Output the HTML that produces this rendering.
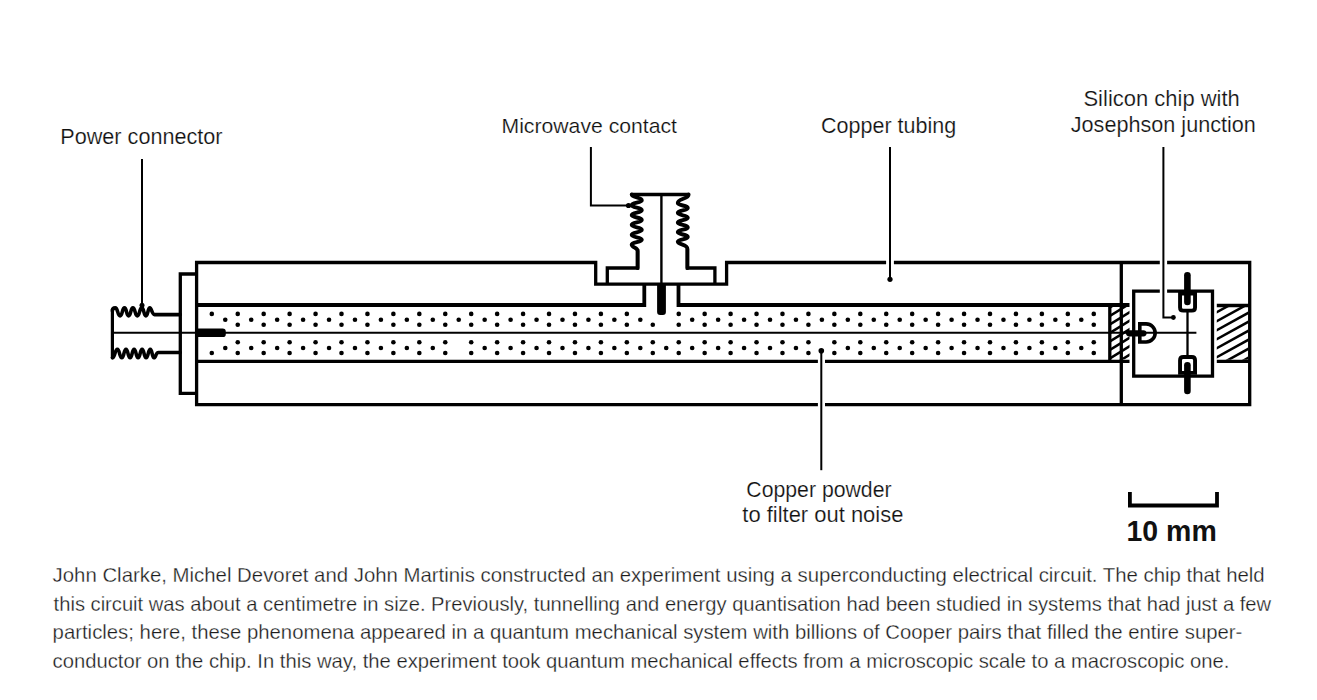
<!DOCTYPE html>
<html><head><meta charset="utf-8"><style>
html,body{margin:0;padding:0;background:#fff;width:1317px;height:700px;overflow:hidden;}
svg{position:absolute;left:0;top:0;}
.t{position:absolute;font-family:"Liberation Sans",sans-serif;color:#1e1e1e;white-space:nowrap;line-height:1;transform-origin:0 0;}
.lab{font-size:21.4px;color:#111;-webkit-text-stroke:0.2px #fff;}
.bold{-webkit-text-stroke:0;}
.p{font-size:20.2px;color:#1c1c1c;-webkit-text-stroke:0.28px #fff;}
</style></head><body>
<svg width="1317" height="700" viewBox="0 0 1317 700" stroke="#000" fill="none">
<path d="M817.9,404.7 L196.6,404.7 L196.6,262.5 L595.7,262.5 L595.7,284.1 L726.6,284.1 L726.6,262.5 L886.1,262.5" stroke-width="3.3" stroke-linecap="butt" stroke-linejoin="miter" fill="none"/>
<line x1="893.90" y1="262.50" x2="1159.80" y2="262.50" stroke-width="3.3" stroke-linecap="butt"/>
<path d="M1167.1,262.5 L1249.7,262.5 L1249.7,404.7 L825,404.7" stroke-width="3.3" stroke-linecap="butt" stroke-linejoin="miter" fill="none"/>
<line x1="1121.30" y1="262.50" x2="1121.30" y2="404.70" stroke-width="3.3" stroke-linecap="butt"/>
<path d="M196.6,274 L180.3,274 L180.3,393.3 L196.6,393.3" stroke-width="3.3" stroke-linecap="butt" stroke-linejoin="miter" fill="none"/>
<path d="M196.6,305.0 L644.3,305.0 L644.3,284.1" stroke-width="3.8" stroke-linecap="butt" stroke-linejoin="miter" fill="none"/>
<path d="M678.5,284.1 L678.5,305.0 L1129.5,305.0" stroke-width="3.8" stroke-linecap="butt" stroke-linejoin="miter" fill="none"/>
<line x1="196.60" y1="361.40" x2="817.90" y2="361.40" stroke-width="3.3" stroke-linecap="butt"/>
<line x1="825.00" y1="361.40" x2="1129.50" y2="361.40" stroke-width="3.3" stroke-linecap="butt"/>
<line x1="1109.80" y1="305.00" x2="1109.80" y2="361.40" stroke-width="3.3" stroke-linecap="butt"/>
<path d="M607.3,284.1 L607.3,268 L637.6,268 L637.6,249" stroke-width="3.3" stroke-linecap="butt" stroke-linejoin="miter" fill="none"/>
<path d="M687.4,249 L687.4,268 L714.9,268 L714.9,284.1" stroke-width="3.3" stroke-linecap="butt" stroke-linejoin="miter" fill="none"/>
<line x1="661.40" y1="194.50" x2="661.40" y2="284.10" stroke-width="2.4" stroke-linecap="butt"/>
<path d="M657.1,284 L665.9,284 L665.9,311.9 Q665.9,314.9 662.9,314.9 L660.1,314.9 Q657.1,314.9 657.1,311.9 Z" fill="#000" stroke="none"/>
<line x1="631.50" y1="194.50" x2="688.60" y2="194.50" stroke-width="3.3" stroke-linecap="butt"/>
<path d="M631.7,194.5 C631.70,197.63 641.80,197.06 641.80,200.20 C641.80,202.95 631.70,202.45 631.70,205.20 C631.70,207.95 641.80,207.45 641.80,210.20 C641.80,212.84 631.70,212.36 631.70,215.00 C631.70,217.75 641.80,217.25 641.80,220.00 C641.80,222.64 631.70,222.16 631.70,224.80 C631.70,227.55 641.80,227.05 641.80,229.80 C641.80,232.55 631.70,232.05 631.70,234.80 C631.70,237.55 641.80,237.05 641.80,239.80 C641.80,242.44 631.70,241.96 631.70,244.60 C631.7,248 637.6,247 637.6,251 L637.6,268" stroke-width="3.9" stroke-linecap="round" stroke-linejoin="round" fill="none"/>
<path d="M688.6,194.5 C688.60,199.18 677.80,198.32 677.80,203.00 C677.80,205.75 687.80,205.25 687.80,208.00 C687.80,210.64 677.80,210.16 677.80,212.80 C677.80,215.55 687.80,215.05 687.80,217.80 C687.80,220.33 677.80,219.87 677.80,222.40 C677.80,225.15 687.80,224.65 687.80,227.40 C687.80,229.93 677.80,229.47 677.80,232.00 C677.80,234.75 687.80,234.25 687.80,237.00 C687.80,239.53 677.80,239.07 677.80,241.60 C677.8,245 687.4,244 687.4,249 L687.4,268" stroke-width="3.9" stroke-linecap="round" stroke-linejoin="round" fill="none"/>
<path d="M590.9,147.0 L590.9,205.5 L628.5,205.5" stroke-width="2.0" stroke-linecap="butt" stroke-linejoin="miter" fill="none"/>
<circle cx="628.50" cy="205.50" r="2.6" stroke="none" fill="#000"/>
<line x1="112.40" y1="309.50" x2="112.40" y2="357.80" stroke-width="3.2" stroke-linecap="round"/>
<path d="M112.4,311 C112.4,308 114,307.9 115.3,307.9 C117.94,307.90 117.46,315.90 120.10,315.90 C122.52,315.90 122.08,307.90 124.50,307.90 C126.75,307.90 126.34,315.90 128.60,315.90 C130.97,315.90 130.53,307.90 132.90,307.90 C135.32,307.90 134.88,315.90 137.30,315.90 C139.78,315.90 139.33,307.90 141.80,307.90 C144.06,307.90 143.65,315.90 145.90,315.90 C148.10,315.90 147.70,307.90 149.90,307.90 C151.5,307.9 152,314.6 154.5,314.6 L180.3,314.6" stroke-width="3.6" stroke-linecap="round" stroke-linejoin="round" fill="none"/>
<path d="M112.4,357.8 C115.15,357.80 114.65,349.30 117.40,349.30 C119.82,349.30 119.38,357.80 121.80,357.80 C124.11,357.80 123.69,349.30 126.00,349.30 C128.25,349.30 127.84,357.80 130.10,357.80 C132.30,357.80 131.90,349.30 134.10,349.30 C136.30,349.30 135.90,357.80 138.10,357.80 C140.30,357.80 139.90,349.30 142.10,349.30 C144.30,349.30 143.90,357.80 146.10,357.80 C148.41,357.80 147.99,349.30 150.30,349.30 C152.34,349.30 151.97,357.80 154.00,357.80 C156,357.8 155.5,352.5 158.5,352.5 L180.3,352.5" stroke-width="3.6" stroke-linecap="round" stroke-linejoin="round" fill="none"/>
<line x1="142.00" y1="158.90" x2="142.00" y2="305.00" stroke-width="2.0" stroke-linecap="butt"/>
<circle cx="142.00" cy="305.20" r="2.5" stroke="none" fill="#000"/>
<line x1="112.40" y1="332.80" x2="1196.40" y2="332.80" stroke-width="2.0" stroke-linecap="butt"/>
<path d="M196.6,328.5 L222.6,328.5 Q225.8,328.5 225.8,331.7 L225.8,333.90000000000003 Q225.8,337.1 222.6,337.1 L196.6,337.1 Z" fill="#000" stroke="none"/>
<line x1="890.00" y1="147.00" x2="890.00" y2="279.00" stroke-width="2.0" stroke-linecap="butt"/>
<circle cx="890.00" cy="279.30" r="2.6" stroke="none" fill="#000"/>
<line x1="821.30" y1="350.80" x2="821.30" y2="470.20" stroke-width="2.0" stroke-linecap="butt"/>
<circle cx="821.30" cy="350.80" r="2.8" stroke="none" fill="#000"/>
<path d="M1159.8,291.2 L1133.7,291.2 L1133.7,376.2 L1212.5,376.2 L1212.5,291.2 L1167.1,291.2" stroke-width="3.3" stroke-linecap="butt" stroke-linejoin="miter" fill="none"/>
<path d="M1163.4,146.9 L1163.4,317.5 L1173.4,317.5" stroke-width="2.0" stroke-linecap="butt" stroke-linejoin="miter" fill="none"/>
<circle cx="1173.40" cy="317.50" r="2.4" stroke="none" fill="#000"/>
<line x1="1216.80" y1="305.50" x2="1249.70" y2="305.50" stroke-width="3.3" stroke-linecap="butt"/>
<line x1="1216.80" y1="361.30" x2="1249.70" y2="361.30" stroke-width="3.3" stroke-linecap="butt"/>
<path d="M1129.2,333.3 L1143.4,333.3" stroke-width="6.3" stroke-linecap="round" stroke-linejoin="miter" fill="none"/>
<path d="M1146.1,323.85 L1139.8,323.85 L1139.8,341.95 L1146.1,341.95 A9.05,9.05 0 0 0 1146.1,323.85 Z" stroke-width="3.6" stroke-linecap="butt" stroke-linejoin="miter" fill="none"/>
<path d="M1180.05,293.45 L1195.05,293.45 L1195.05,307.4 Q1195.05,310.65 1191.8,310.65 L1183.3,310.65 Q1180.05,310.65 1180.05,307.4 Z" stroke-width="3.9" stroke-linecap="butt" stroke-linejoin="miter" fill="none"/>
<path d="M1180.05,372.85 L1195.05,372.85 L1195.05,360.2 Q1195.05,356.95 1191.8,356.95 L1183.3,356.95 Q1180.05,356.95 1180.05,360.2 Z" stroke-width="3.9" stroke-linecap="butt" stroke-linejoin="miter" fill="none"/>
<path d="M1187.4,275.3 L1187.4,302" stroke-width="6.6" stroke-linecap="round" stroke-linejoin="miter" fill="none"/>
<path d="M1187.4,365.3 L1187.4,391" stroke-width="6.6" stroke-linecap="round" stroke-linejoin="miter" fill="none"/>
<line x1="1187.50" y1="310.00" x2="1187.50" y2="357.00" stroke-width="2.3" stroke-linecap="butt"/>
<circle cx="211.80" cy="313.90" r="2.3" stroke="none" fill="#000"/>
<circle cx="211.80" cy="353.00" r="2.3" stroke="none" fill="#000"/>
<circle cx="225.27" cy="319.80" r="2.3" stroke="none" fill="#000"/>
<circle cx="225.27" cy="348.00" r="2.3" stroke="none" fill="#000"/>
<circle cx="237.74" cy="313.90" r="2.3" stroke="none" fill="#000"/>
<circle cx="237.74" cy="324.80" r="2.3" stroke="none" fill="#000"/>
<circle cx="237.74" cy="342.30" r="2.3" stroke="none" fill="#000"/>
<circle cx="237.74" cy="353.00" r="2.3" stroke="none" fill="#000"/>
<circle cx="251.21" cy="319.80" r="2.3" stroke="none" fill="#000"/>
<circle cx="251.21" cy="348.00" r="2.3" stroke="none" fill="#000"/>
<circle cx="263.68" cy="313.90" r="2.3" stroke="none" fill="#000"/>
<circle cx="263.68" cy="324.80" r="2.3" stroke="none" fill="#000"/>
<circle cx="263.68" cy="342.30" r="2.3" stroke="none" fill="#000"/>
<circle cx="263.68" cy="353.00" r="2.3" stroke="none" fill="#000"/>
<circle cx="277.15" cy="319.80" r="2.3" stroke="none" fill="#000"/>
<circle cx="277.15" cy="348.00" r="2.3" stroke="none" fill="#000"/>
<circle cx="289.62" cy="313.90" r="2.3" stroke="none" fill="#000"/>
<circle cx="289.62" cy="324.80" r="2.3" stroke="none" fill="#000"/>
<circle cx="289.62" cy="342.30" r="2.3" stroke="none" fill="#000"/>
<circle cx="289.62" cy="353.00" r="2.3" stroke="none" fill="#000"/>
<circle cx="303.09" cy="319.80" r="2.3" stroke="none" fill="#000"/>
<circle cx="303.09" cy="348.00" r="2.3" stroke="none" fill="#000"/>
<circle cx="315.56" cy="313.90" r="2.3" stroke="none" fill="#000"/>
<circle cx="315.56" cy="324.80" r="2.3" stroke="none" fill="#000"/>
<circle cx="315.56" cy="342.30" r="2.3" stroke="none" fill="#000"/>
<circle cx="315.56" cy="353.00" r="2.3" stroke="none" fill="#000"/>
<circle cx="329.03" cy="319.80" r="2.3" stroke="none" fill="#000"/>
<circle cx="329.03" cy="348.00" r="2.3" stroke="none" fill="#000"/>
<circle cx="341.50" cy="313.90" r="2.3" stroke="none" fill="#000"/>
<circle cx="341.50" cy="324.80" r="2.3" stroke="none" fill="#000"/>
<circle cx="341.50" cy="342.30" r="2.3" stroke="none" fill="#000"/>
<circle cx="341.50" cy="353.00" r="2.3" stroke="none" fill="#000"/>
<circle cx="354.97" cy="319.80" r="2.3" stroke="none" fill="#000"/>
<circle cx="354.97" cy="348.00" r="2.3" stroke="none" fill="#000"/>
<circle cx="367.44" cy="313.90" r="2.3" stroke="none" fill="#000"/>
<circle cx="367.44" cy="324.80" r="2.3" stroke="none" fill="#000"/>
<circle cx="367.44" cy="342.30" r="2.3" stroke="none" fill="#000"/>
<circle cx="367.44" cy="353.00" r="2.3" stroke="none" fill="#000"/>
<circle cx="380.91" cy="319.80" r="2.3" stroke="none" fill="#000"/>
<circle cx="380.91" cy="348.00" r="2.3" stroke="none" fill="#000"/>
<circle cx="393.38" cy="313.90" r="2.3" stroke="none" fill="#000"/>
<circle cx="393.38" cy="324.80" r="2.3" stroke="none" fill="#000"/>
<circle cx="393.38" cy="342.30" r="2.3" stroke="none" fill="#000"/>
<circle cx="393.38" cy="353.00" r="2.3" stroke="none" fill="#000"/>
<circle cx="406.85" cy="319.80" r="2.3" stroke="none" fill="#000"/>
<circle cx="406.85" cy="348.00" r="2.3" stroke="none" fill="#000"/>
<circle cx="419.32" cy="313.90" r="2.3" stroke="none" fill="#000"/>
<circle cx="419.32" cy="324.80" r="2.3" stroke="none" fill="#000"/>
<circle cx="419.32" cy="342.30" r="2.3" stroke="none" fill="#000"/>
<circle cx="419.32" cy="353.00" r="2.3" stroke="none" fill="#000"/>
<circle cx="432.79" cy="319.80" r="2.3" stroke="none" fill="#000"/>
<circle cx="432.79" cy="348.00" r="2.3" stroke="none" fill="#000"/>
<circle cx="445.26" cy="313.90" r="2.3" stroke="none" fill="#000"/>
<circle cx="445.26" cy="324.80" r="2.3" stroke="none" fill="#000"/>
<circle cx="445.26" cy="342.30" r="2.3" stroke="none" fill="#000"/>
<circle cx="445.26" cy="353.00" r="2.3" stroke="none" fill="#000"/>
<circle cx="458.73" cy="319.80" r="2.3" stroke="none" fill="#000"/>
<circle cx="471.20" cy="313.90" r="2.3" stroke="none" fill="#000"/>
<circle cx="471.20" cy="324.80" r="2.3" stroke="none" fill="#000"/>
<circle cx="471.20" cy="342.30" r="2.3" stroke="none" fill="#000"/>
<circle cx="471.20" cy="353.00" r="2.3" stroke="none" fill="#000"/>
<circle cx="484.67" cy="319.80" r="2.3" stroke="none" fill="#000"/>
<circle cx="484.67" cy="348.00" r="2.3" stroke="none" fill="#000"/>
<circle cx="497.14" cy="313.90" r="2.3" stroke="none" fill="#000"/>
<circle cx="497.14" cy="324.80" r="2.3" stroke="none" fill="#000"/>
<circle cx="497.14" cy="342.30" r="2.3" stroke="none" fill="#000"/>
<circle cx="497.14" cy="353.00" r="2.3" stroke="none" fill="#000"/>
<circle cx="510.61" cy="319.80" r="2.3" stroke="none" fill="#000"/>
<circle cx="510.61" cy="348.00" r="2.3" stroke="none" fill="#000"/>
<circle cx="523.08" cy="313.90" r="2.3" stroke="none" fill="#000"/>
<circle cx="523.08" cy="324.80" r="2.3" stroke="none" fill="#000"/>
<circle cx="523.08" cy="342.30" r="2.3" stroke="none" fill="#000"/>
<circle cx="523.08" cy="353.00" r="2.3" stroke="none" fill="#000"/>
<circle cx="536.55" cy="319.80" r="2.3" stroke="none" fill="#000"/>
<circle cx="536.55" cy="348.00" r="2.3" stroke="none" fill="#000"/>
<circle cx="549.02" cy="313.90" r="2.3" stroke="none" fill="#000"/>
<circle cx="549.02" cy="324.80" r="2.3" stroke="none" fill="#000"/>
<circle cx="549.02" cy="342.30" r="2.3" stroke="none" fill="#000"/>
<circle cx="549.02" cy="353.00" r="2.3" stroke="none" fill="#000"/>
<circle cx="562.49" cy="319.80" r="2.3" stroke="none" fill="#000"/>
<circle cx="562.49" cy="348.00" r="2.3" stroke="none" fill="#000"/>
<circle cx="574.96" cy="313.90" r="2.3" stroke="none" fill="#000"/>
<circle cx="574.96" cy="324.80" r="2.3" stroke="none" fill="#000"/>
<circle cx="574.96" cy="342.30" r="2.3" stroke="none" fill="#000"/>
<circle cx="574.96" cy="353.00" r="2.3" stroke="none" fill="#000"/>
<circle cx="588.43" cy="319.80" r="2.3" stroke="none" fill="#000"/>
<circle cx="588.43" cy="348.00" r="2.3" stroke="none" fill="#000"/>
<circle cx="600.90" cy="313.90" r="2.3" stroke="none" fill="#000"/>
<circle cx="600.90" cy="324.80" r="2.3" stroke="none" fill="#000"/>
<circle cx="600.90" cy="342.30" r="2.3" stroke="none" fill="#000"/>
<circle cx="600.90" cy="353.00" r="2.3" stroke="none" fill="#000"/>
<circle cx="614.37" cy="319.80" r="2.3" stroke="none" fill="#000"/>
<circle cx="614.37" cy="348.00" r="2.3" stroke="none" fill="#000"/>
<circle cx="626.84" cy="313.90" r="2.3" stroke="none" fill="#000"/>
<circle cx="626.84" cy="324.80" r="2.3" stroke="none" fill="#000"/>
<circle cx="626.84" cy="342.30" r="2.3" stroke="none" fill="#000"/>
<circle cx="626.84" cy="353.00" r="2.3" stroke="none" fill="#000"/>
<circle cx="640.31" cy="319.80" r="2.3" stroke="none" fill="#000"/>
<circle cx="640.31" cy="348.00" r="2.3" stroke="none" fill="#000"/>
<circle cx="652.78" cy="324.80" r="2.3" stroke="none" fill="#000"/>
<circle cx="652.78" cy="342.30" r="2.3" stroke="none" fill="#000"/>
<circle cx="652.78" cy="353.00" r="2.3" stroke="none" fill="#000"/>
<circle cx="666.25" cy="348.00" r="2.3" stroke="none" fill="#000"/>
<circle cx="678.72" cy="313.90" r="2.3" stroke="none" fill="#000"/>
<circle cx="678.72" cy="324.80" r="2.3" stroke="none" fill="#000"/>
<circle cx="678.72" cy="342.30" r="2.3" stroke="none" fill="#000"/>
<circle cx="678.72" cy="353.00" r="2.3" stroke="none" fill="#000"/>
<circle cx="692.19" cy="319.80" r="2.3" stroke="none" fill="#000"/>
<circle cx="692.19" cy="348.00" r="2.3" stroke="none" fill="#000"/>
<circle cx="704.66" cy="313.90" r="2.3" stroke="none" fill="#000"/>
<circle cx="704.66" cy="324.80" r="2.3" stroke="none" fill="#000"/>
<circle cx="704.66" cy="342.30" r="2.3" stroke="none" fill="#000"/>
<circle cx="704.66" cy="353.00" r="2.3" stroke="none" fill="#000"/>
<circle cx="718.13" cy="319.80" r="2.3" stroke="none" fill="#000"/>
<circle cx="718.13" cy="348.00" r="2.3" stroke="none" fill="#000"/>
<circle cx="730.60" cy="313.90" r="2.3" stroke="none" fill="#000"/>
<circle cx="730.60" cy="324.80" r="2.3" stroke="none" fill="#000"/>
<circle cx="730.60" cy="342.30" r="2.3" stroke="none" fill="#000"/>
<circle cx="730.60" cy="353.00" r="2.3" stroke="none" fill="#000"/>
<circle cx="744.07" cy="319.80" r="2.3" stroke="none" fill="#000"/>
<circle cx="744.07" cy="348.00" r="2.3" stroke="none" fill="#000"/>
<circle cx="756.54" cy="313.90" r="2.3" stroke="none" fill="#000"/>
<circle cx="756.54" cy="324.80" r="2.3" stroke="none" fill="#000"/>
<circle cx="756.54" cy="342.30" r="2.3" stroke="none" fill="#000"/>
<circle cx="756.54" cy="353.00" r="2.3" stroke="none" fill="#000"/>
<circle cx="770.01" cy="319.80" r="2.3" stroke="none" fill="#000"/>
<circle cx="770.01" cy="348.00" r="2.3" stroke="none" fill="#000"/>
<circle cx="782.48" cy="313.90" r="2.3" stroke="none" fill="#000"/>
<circle cx="782.48" cy="324.80" r="2.3" stroke="none" fill="#000"/>
<circle cx="782.48" cy="342.30" r="2.3" stroke="none" fill="#000"/>
<circle cx="782.48" cy="353.00" r="2.3" stroke="none" fill="#000"/>
<circle cx="795.95" cy="319.80" r="2.3" stroke="none" fill="#000"/>
<circle cx="795.95" cy="348.00" r="2.3" stroke="none" fill="#000"/>
<circle cx="808.42" cy="313.90" r="2.3" stroke="none" fill="#000"/>
<circle cx="808.42" cy="324.80" r="2.3" stroke="none" fill="#000"/>
<circle cx="808.42" cy="342.30" r="2.3" stroke="none" fill="#000"/>
<circle cx="808.42" cy="353.00" r="2.3" stroke="none" fill="#000"/>
<circle cx="821.89" cy="319.80" r="2.3" stroke="none" fill="#000"/>
<circle cx="834.36" cy="313.90" r="2.3" stroke="none" fill="#000"/>
<circle cx="834.36" cy="324.80" r="2.3" stroke="none" fill="#000"/>
<circle cx="834.36" cy="342.30" r="2.3" stroke="none" fill="#000"/>
<circle cx="834.36" cy="353.00" r="2.3" stroke="none" fill="#000"/>
<circle cx="847.83" cy="319.80" r="2.3" stroke="none" fill="#000"/>
<circle cx="847.83" cy="348.00" r="2.3" stroke="none" fill="#000"/>
<circle cx="860.30" cy="313.90" r="2.3" stroke="none" fill="#000"/>
<circle cx="860.30" cy="324.80" r="2.3" stroke="none" fill="#000"/>
<circle cx="860.30" cy="342.30" r="2.3" stroke="none" fill="#000"/>
<circle cx="860.30" cy="353.00" r="2.3" stroke="none" fill="#000"/>
<circle cx="873.77" cy="319.80" r="2.3" stroke="none" fill="#000"/>
<circle cx="873.77" cy="348.00" r="2.3" stroke="none" fill="#000"/>
<circle cx="886.24" cy="313.90" r="2.3" stroke="none" fill="#000"/>
<circle cx="886.24" cy="324.80" r="2.3" stroke="none" fill="#000"/>
<circle cx="886.24" cy="342.30" r="2.3" stroke="none" fill="#000"/>
<circle cx="886.24" cy="353.00" r="2.3" stroke="none" fill="#000"/>
<circle cx="899.71" cy="319.80" r="2.3" stroke="none" fill="#000"/>
<circle cx="899.71" cy="348.00" r="2.3" stroke="none" fill="#000"/>
<circle cx="912.18" cy="313.90" r="2.3" stroke="none" fill="#000"/>
<circle cx="912.18" cy="324.80" r="2.3" stroke="none" fill="#000"/>
<circle cx="912.18" cy="342.30" r="2.3" stroke="none" fill="#000"/>
<circle cx="912.18" cy="353.00" r="2.3" stroke="none" fill="#000"/>
<circle cx="925.65" cy="319.80" r="2.3" stroke="none" fill="#000"/>
<circle cx="925.65" cy="348.00" r="2.3" stroke="none" fill="#000"/>
<circle cx="938.12" cy="313.90" r="2.3" stroke="none" fill="#000"/>
<circle cx="938.12" cy="324.80" r="2.3" stroke="none" fill="#000"/>
<circle cx="938.12" cy="342.30" r="2.3" stroke="none" fill="#000"/>
<circle cx="938.12" cy="353.00" r="2.3" stroke="none" fill="#000"/>
<circle cx="951.59" cy="319.80" r="2.3" stroke="none" fill="#000"/>
<circle cx="951.59" cy="348.00" r="2.3" stroke="none" fill="#000"/>
<circle cx="964.06" cy="313.90" r="2.3" stroke="none" fill="#000"/>
<circle cx="964.06" cy="324.80" r="2.3" stroke="none" fill="#000"/>
<circle cx="964.06" cy="342.30" r="2.3" stroke="none" fill="#000"/>
<circle cx="964.06" cy="353.00" r="2.3" stroke="none" fill="#000"/>
<circle cx="977.53" cy="319.80" r="2.3" stroke="none" fill="#000"/>
<circle cx="977.53" cy="348.00" r="2.3" stroke="none" fill="#000"/>
<circle cx="990.00" cy="313.90" r="2.3" stroke="none" fill="#000"/>
<circle cx="990.00" cy="324.80" r="2.3" stroke="none" fill="#000"/>
<circle cx="990.00" cy="342.30" r="2.3" stroke="none" fill="#000"/>
<circle cx="990.00" cy="353.00" r="2.3" stroke="none" fill="#000"/>
<circle cx="1003.47" cy="319.80" r="2.3" stroke="none" fill="#000"/>
<circle cx="1003.47" cy="348.00" r="2.3" stroke="none" fill="#000"/>
<circle cx="1015.94" cy="313.90" r="2.3" stroke="none" fill="#000"/>
<circle cx="1015.94" cy="324.80" r="2.3" stroke="none" fill="#000"/>
<circle cx="1015.94" cy="342.30" r="2.3" stroke="none" fill="#000"/>
<circle cx="1015.94" cy="353.00" r="2.3" stroke="none" fill="#000"/>
<circle cx="1029.41" cy="319.80" r="2.3" stroke="none" fill="#000"/>
<circle cx="1029.41" cy="348.00" r="2.3" stroke="none" fill="#000"/>
<circle cx="1041.88" cy="313.90" r="2.3" stroke="none" fill="#000"/>
<circle cx="1041.88" cy="324.80" r="2.3" stroke="none" fill="#000"/>
<circle cx="1041.88" cy="342.30" r="2.3" stroke="none" fill="#000"/>
<circle cx="1041.88" cy="353.00" r="2.3" stroke="none" fill="#000"/>
<circle cx="1055.35" cy="319.80" r="2.3" stroke="none" fill="#000"/>
<circle cx="1055.35" cy="348.00" r="2.3" stroke="none" fill="#000"/>
<circle cx="1067.82" cy="313.90" r="2.3" stroke="none" fill="#000"/>
<circle cx="1067.82" cy="324.80" r="2.3" stroke="none" fill="#000"/>
<circle cx="1067.82" cy="342.30" r="2.3" stroke="none" fill="#000"/>
<circle cx="1067.82" cy="353.00" r="2.3" stroke="none" fill="#000"/>
<circle cx="1081.29" cy="319.80" r="2.3" stroke="none" fill="#000"/>
<circle cx="1081.29" cy="348.00" r="2.3" stroke="none" fill="#000"/>
<circle cx="1093.76" cy="313.90" r="2.3" stroke="none" fill="#000"/>
<circle cx="1093.76" cy="324.80" r="2.3" stroke="none" fill="#000"/>
<circle cx="1093.76" cy="342.30" r="2.3" stroke="none" fill="#000"/>
<circle cx="1093.76" cy="353.00" r="2.3" stroke="none" fill="#000"/>
<clipPath id="h1"><rect x="1111.0" y="306.8" width="18.5" height="52.80000000000001"/></clipPath>
<g clip-path="url(#h1)">
<line x1="1108.00" y1="300.16" x2="1132.50" y2="284.97" stroke-width="2.5"/>
<line x1="1108.00" y1="308.66" x2="1132.50" y2="293.47" stroke-width="2.5"/>
<line x1="1108.00" y1="317.16" x2="1132.50" y2="301.97" stroke-width="2.5"/>
<line x1="1108.00" y1="325.66" x2="1132.50" y2="310.47" stroke-width="2.5"/>
<line x1="1108.00" y1="334.16" x2="1132.50" y2="318.97" stroke-width="2.5"/>
<line x1="1108.00" y1="342.66" x2="1132.50" y2="327.47" stroke-width="2.5"/>
<line x1="1108.00" y1="351.16" x2="1132.50" y2="335.97" stroke-width="2.5"/>
<line x1="1108.00" y1="359.66" x2="1132.50" y2="344.47" stroke-width="2.5"/>
<line x1="1108.00" y1="368.16" x2="1132.50" y2="352.97" stroke-width="2.5"/>
<line x1="1108.00" y1="376.66" x2="1132.50" y2="361.47" stroke-width="2.5"/>
</g>
<clipPath id="h2"><rect x="1216.8" y="307.0" width="31.200000000000045" height="52.80000000000001"/></clipPath>
<g clip-path="url(#h2)">
<line x1="1213.80" y1="304.85" x2="1251.00" y2="284.39" stroke-width="2.5"/>
<line x1="1213.80" y1="313.85" x2="1251.00" y2="293.39" stroke-width="2.5"/>
<line x1="1213.80" y1="322.85" x2="1251.00" y2="302.39" stroke-width="2.5"/>
<line x1="1213.80" y1="331.85" x2="1251.00" y2="311.39" stroke-width="2.5"/>
<line x1="1213.80" y1="340.85" x2="1251.00" y2="320.39" stroke-width="2.5"/>
<line x1="1213.80" y1="349.85" x2="1251.00" y2="329.39" stroke-width="2.5"/>
<line x1="1213.80" y1="358.85" x2="1251.00" y2="338.39" stroke-width="2.5"/>
<line x1="1213.80" y1="367.85" x2="1251.00" y2="347.39" stroke-width="2.5"/>
<line x1="1213.80" y1="376.85" x2="1251.00" y2="356.39" stroke-width="2.5"/>
</g>
<path d="M1129.9,492 L1129.9,505.5 L1217,505.5 L1217,492" stroke-width="3.8" stroke-linecap="butt" stroke-linejoin="miter" fill="none"/>
</svg>
<div class="t lab" style="left:61.00px;top:125.78px;font-size:21.4px;transform-origin:2.00px 2.22px;transform:translate(-0.7px,0.1px) scale(1.0108,1.0533);">Power connector</div>
<div class="t lab" style="left:501.80px;top:114.88px;font-size:21.4px;transform-origin:2.20px 1.12px;transform:translate(-0.5px,1.1px) scale(0.9903,0.9875);">Microwave contact</div>
<div class="t lab" style="left:820.80px;top:114.68px;font-size:21.4px;transform-origin:1.20px 2.32px;transform:translate(0.1px,0.3px) scale(1.0053,1.0333);">Copper tubing</div>
<div class="t lab" style="left:1084.20px;top:87.68px;font-size:21.4px;transform-origin:1.80px 2.32px;transform:translate(-0.5px,0.4px) scale(1.0275,1.0267);">Silicon chip with</div>
<div class="t lab" style="left:1069.50px;top:113.68px;font-size:21.4px;transform-origin:0.50px 2.32px;transform:translate(0.8px,0.4px) scale(1.0105,1.0267);">Josephson junction</div>
<div class="t lab" style="left:746.00px;top:478.98px;font-size:21.4px;transform-origin:1.00px 2.02px;transform:translate(0.3px,0.5px) scale(0.9931,1.04);">Copper powder</div>
<div class="t lab" style="left:741.00px;top:504.08px;font-size:21.4px;transform-origin:0.00px 0.92px;transform:translate(1.3px,1.0px) scale(1.0263,1.0125);">to filter out noise</div>
<div class="t lab bold" style="left:1127.00px;top:517.30px;font-size:28px;transform-origin:2.00px 3.70px;transform:translate(-0.5px,-0.5px) scale(1.0176,1.0789);font-weight:bold;color:#111;">10 mm</div>
<div class="t p" style="left:52.50px;top:564.80px;font-size:20.2px;transform-origin:1.50px -564.80px;transform:translate(-0.4px,0.0px) scale(1.0089,1.0);">John Clarke, Michel Devoret and John Martinis constructed an experiment using a superconducting electrical circuit. The chip that held</div>
<div class="t p" style="left:52.50px;top:593.50px;font-size:20.2px;transform-origin:0.50px -593.50px;transform:translate(0.6px,0.0px) scale(0.9984,1.0);">this circuit was about a centimetre in size. Previously, tunnelling and energy quantisation had been studied in systems that had just a few</div>
<div class="t p" style="left:52.50px;top:622.40px;font-size:20.2px;transform-origin:1.50px -622.40px;transform:translate(-0.4px,0.0px) scale(1.0069,1.0);">particles; here, these phenomena appeared in a quantum mechanical system with billions of Cooper pairs that filled the entire super-</div>
<div class="t p" style="left:52.50px;top:650.90px;font-size:20.2px;transform-origin:1.50px -650.90px;transform:translate(-0.4px,0.0px) scale(1.0024,1.0);">conductor on the chip. In this way, the experiment took quantum mechanical effects from a microscopic scale to a macroscopic one.</div>
</body></html>
